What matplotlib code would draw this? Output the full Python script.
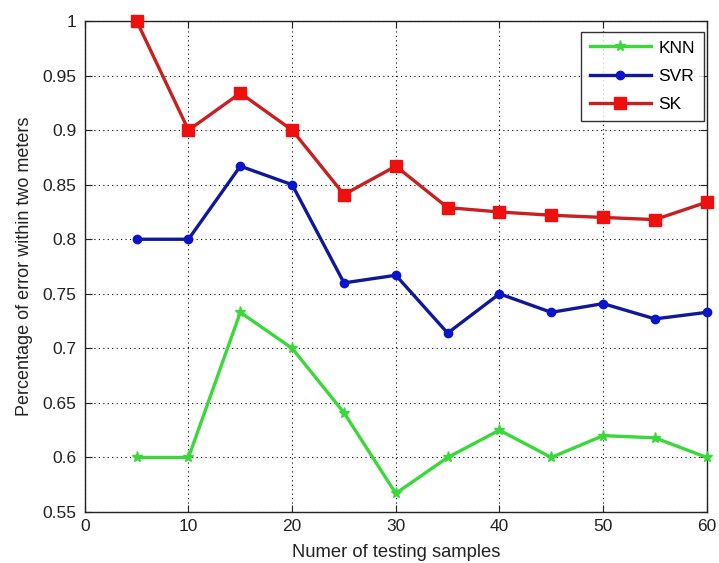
import matplotlib
matplotlib.use("Agg")
import matplotlib.pyplot as plt

plt.rcParams['font.family'] = ['Liberation Sans', 'DejaVu Sans']

samples = [5, 10, 15, 20, 25, 30, 35, 40, 45, 50, 55, 60]
knn = [0.600, 0.600, 0.733, 0.700, 0.641, 0.567, 0.600, 0.625, 0.600, 0.620, 0.618, 0.600]
svr = [0.800, 0.800, 0.867, 0.850, 0.760, 0.767, 0.714, 0.750, 0.733, 0.741, 0.727, 0.733]
sk = [1.000, 0.900, 0.934, 0.900, 0.841, 0.867, 0.829, 0.825, 0.822, 0.820, 0.818, 0.834]

x_ticks = [0, 10, 20, 30, 40, 50, 60]
y_ticks = [0.55, 0.6, 0.65, 0.7, 0.75, 0.8, 0.85, 0.9, 0.95, 1.0]
y_tick_labels = ['0.55', '0.6', '0.65', '0.7', '0.75', '0.8', '0.85', '0.9', '0.95', '1']

fig = plt.figure(figsize=(7.19, 5.63), dpi=100)
ax = fig.add_axes([0.118, 0.0906, 0.865, 0.872])

ax.plot(samples, knn, color='#3ad83a', lw=2.4, marker='*', ms=8,
        mfc='#3ad83a', mec='#3ad83a', label='KNN', zorder=3, clip_on=False)
ax.plot(samples, svr, color='#10189a', lw=2.4, marker='o', ms=6,
        mfc='#0a14c8', mec='#0a14c8', label='SVR', zorder=3, clip_on=False)
ax.plot(samples, sk, color='#c82020', lw=2.4, marker='s', ms=8,
        mfc='#ee0f0f', mec='#ee0f0f', label='SK', zorder=3, clip_on=False)

ax.set_xlim(0, 60)
ax.set_ylim(0.55, 1.0)
ax.set_xticks(x_ticks)
ax.set_yticks(y_ticks)
ax.set_yticklabels(y_tick_labels)
ax.grid(True, color='black', linestyle=(0, (1, 3)), linewidth=0.8)
ax.tick_params(direction='in', top=True, right=True, length=5, width=0.8,
               labelsize=12.5, colors='#222222')
ax.tick_params(axis='y', pad=6)
ax.tick_params(axis='x', pad=5)
for s in ax.spines.values():
    s.set_linewidth(1.0)
    s.set_color('#222222')

ax.set_xlabel('Numer of testing samples', fontsize=13.2, labelpad=7, color='#222222')
ax.set_ylabel('Percentage of error within two meters', fontsize=13, labelpad=7, color='#222222')

leg = ax.legend(loc='upper right', bbox_to_anchor=(1.009, 0.996), fontsize=12.5,
                frameon=True, fancybox=False, shadow=False, handlelength=3.5,
                borderpad=0.5, labelspacing=0.75, handletextpad=0.45)
leg.get_frame().set_edgecolor('black')
leg.get_frame().set_linewidth(1.0)

fig.savefig('out.png', dpi=100)
